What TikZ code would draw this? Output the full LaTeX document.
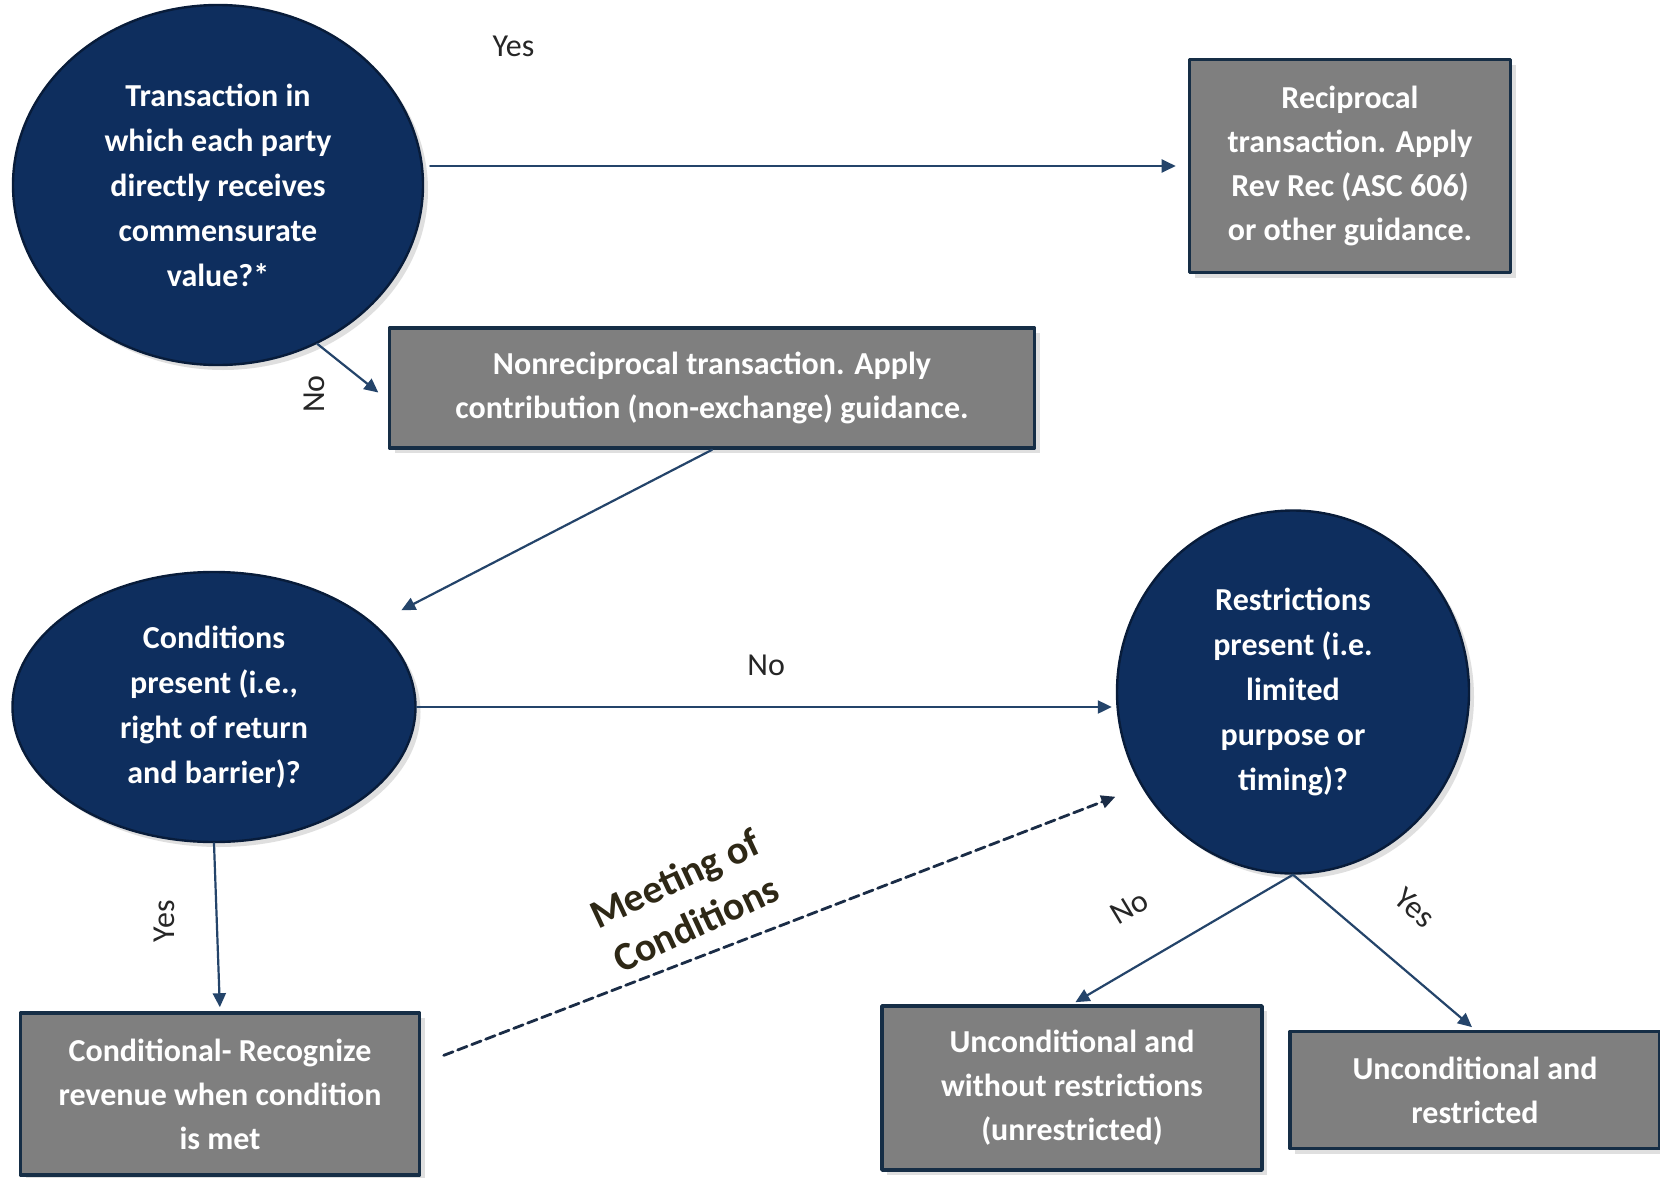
\documentclass[tikz,border=0pt]{standalone}
\usepackage{fontspec}
\setmainfont{Carlito}
\usetikzlibrary{arrows.meta,shapes.geometric,shadows}
\definecolor{navy}{RGB}{14,46,94}
\definecolor{navyedge}{RGB}{8,28,58}
\definecolor{slate}{RGB}{127,127,127}
\definecolor{boxedge}{RGB}{22,46,70}
\definecolor{flowblue}{RGB}{36,68,106}
\definecolor{dashink}{RGB}{26,44,70}
\definecolor{labelink}{RGB}{38,38,38}
\definecolor{noteink}{RGB}{46,40,22}

\begin{document}
\begin{tikzpicture}[x=.5pt,y=-.5pt,line cap=round,line join=round,>={Triangle[length=7pt,width=6.5pt]},
  decision/.style={ellipse,fill=navy,draw=navyedge,line width=1.2pt,text=white,align=center,inner sep=0pt,
    font=\bfseries\fontsize{16}{22.5}\selectfont,drop shadow={opacity=.25,shadow xshift=2.5pt,shadow yshift=-2.5pt}},
  outcome/.style={rectangle,fill=slate,draw=boxedge,line width=1.8pt,text=white,align=center,inner sep=0pt,
    font=\bfseries\fontsize{16}{22}\selectfont,drop shadow={opacity=.25,shadow xshift=2.5pt,shadow yshift=-2.5pt}},
  flow/.style={->,draw=flowblue,line width=1.1pt,shorten >=2pt},
  tag/.style={text=labelink,font=\fontsize{16}{19}\selectfont}]
  \useasboundingbox[fill=white] (0,0) rectangle (1660,1178);

  \node[decision,minimum width=205pt,minimum height=180pt] (trans) at (218,185)
    {Transaction in\\which each party\\directly receives\\commensurate\\value?*};
  \node[outcome,minimum width=160.5pt,minimum height=106.5pt] (recip) at (1350,166)
    {Reciprocal\\transaction. Apply\\Rev Rec (ASC 606)\\or other guidance.};
  \node[outcome,minimum width=322.5pt,minimum height=60pt] (nonrec) at (712,388)
    {Nonreciprocal transaction. Apply\\contribution (non-exchange) guidance.};
  \node[decision,minimum width=201.5pt,minimum height=135pt] (cond) at (214,707)
    {Conditions\\present (i.e.,\\right of return\\and barrier)?};
  \node[decision,minimum width=176pt,minimum height=181.5pt] (restr) at (1293,692)
    {Restrictions\\present (i.e.\\limited\\purpose or\\timing)?};
  \node[outcome,minimum width=199.5pt,minimum height=81pt] (condrev) at (220,1094)
    {Conditional- Recognize\\revenue when condition\\is met};
  \node[outcome,minimum width=190pt,minimum height=82pt] (unres) at (1072,1088)
    {Unconditional and\\without restrictions\\(unrestricted)};
  \node[outcome,minimum width=185pt,minimum height=58.5pt] (resd) at (1475,1090)
    {Unconditional and\\restricted};

  \draw[flow,shorten <=3pt,shorten >=6pt] (recip.west -| trans.east) -- (recip.west)
    node[tag,pos=.117,above=51pt] {Yes};
  \draw[flow,shorten >=6pt] (trans.-58) -- ([yshift=-6pt]nonrec.west)
    node[tag,midway,xshift=-19pt,yshift=-11pt,rotate=90] {No};
  \draw[flow,shorten >=15pt] (nonrec.south) -- (cond);
  \draw[flow] (cond.east) -- (cond.east -| restr.west)
    node[tag,midway,above=12pt] {No};
  \draw[flow] (cond.south) -- (condrev.north)
    node[tag,midway,xshift=-26.5pt,yshift=3pt,rotate=90] {Yes};
  \draw[flow,draw=dashink,line width=1.4pt,dash pattern=on 5pt off 2.5pt,shorten <=12pt,shorten >=14pt]
    ([yshift=15pt]condrev.east) -- (restr.212)
    node[pos=.4,xshift=-12pt,yshift=26pt,rotate=25,text=noteink,align=center,
      font=\bfseries\fontsize{20}{25}\selectfont] {Meeting of\\Conditions};
  \draw[flow] (restr.south) -- (unres.north)
    node[tag,pos=.6,xshift=-15.5pt,yshift=22.5pt,rotate=31] {No};
  \draw[flow] (restr.south) -- (resd.north)
    node[tag,pos=.46,xshift=19pt,yshift=19pt,rotate=-41] {Yes};
\end{tikzpicture}
\end{document}
